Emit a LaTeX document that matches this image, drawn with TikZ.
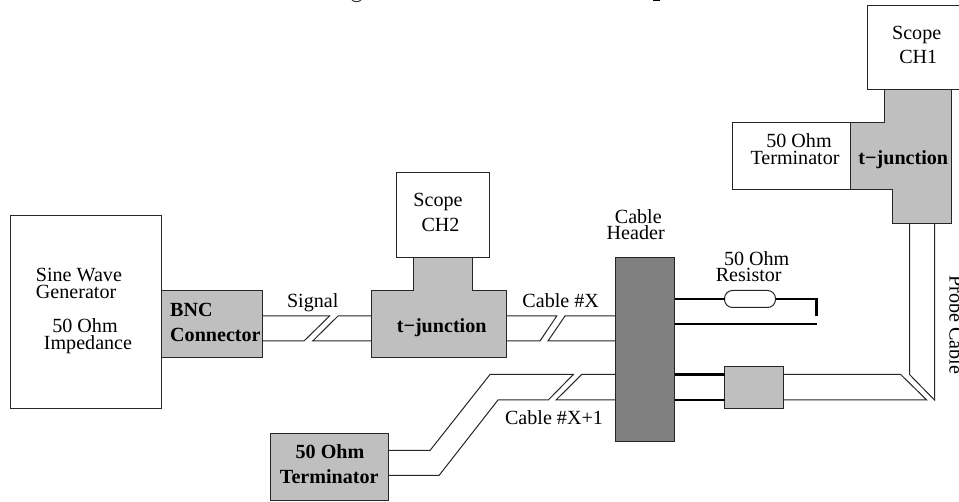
\documentclass[tikz,border=0pt]{standalone}
\usepackage{fontspec}
\setmainfont{Liberation Serif}
\newcommand{\shapeat}[6]{\node[#6,minimum width={(#4-#2)*1pt},minimum height={(#5-#3)*1pt}] (#1) at ({(#2+#4)/2},{(#3+#5)/2}) {};}
\tikzset{
  base/.style={draw=black!85,line width=1pt,inner sep=0pt,outer sep=0pt,rectangle},
  whitebox/.style={base,fill=white},
  graybox/.style={base,fill=black!25},
  darkbox/.style={base,fill=black!50},
  resbox/.style={base,fill=white,rounded corners=8pt},
  txt/.style={anchor=base,inner sep=0pt,font=\fontsize{20.1}{20}\selectfont},
  bld/.style={txt,font=\fontsize{20.1}{20}\selectfont\bfseries},
  wire/.style={draw=black!85,line width=1pt,line join=miter},
  thick wire/.style={draw=black,line width=2.7pt},
}
\begin{document}
\begin{tikzpicture}[x=1pt,y=-1pt]
\useasboundingbox (0,0) rectangle (959,502);
\clip (0,0) rectangle (959,502);
% boxes
\shapeat{gen}{10.5}{215.5}{161.5}{408.5}{whitebox}
\shapeat{scopetwo}{396.5}{172.5}{489.5}{257.5}{whitebox}
\shapeat{scopeone}{867.5}{5.5}{980}{89.5}{whitebox}
\shapeat{termone}{732.5}{122.5}{850.5}{189.5}{whitebox}
\shapeat{bnc}{161.5}{290.5}{262.5}{357.5}{graybox}
\shapeat{header}{615.5}{257.5}{674.5}{441.5}{darkbox}
\shapeat{res}{724.5}{290.5}{775.5}{307.5}{resbox}
\shapeat{lump}{724.5}{366.5}{783.5}{408.5}{graybox}
\shapeat{term}{270.5}{433.5}{388.5}{500.5}{graybox}
% t-junctions
\draw[base,fill=black!25] (371.5,290.5) -- (413.5,290.5) -- (413.5,257.5) -- (472.5,257.5) -- (472.5,290.5) -- (506.5,290.5) -- (506.5,357.5) -- (371.5,357.5) -- cycle;
\draw[base,fill=black!25] (850.5,122.5) -- (884.5,122.5) -- (884.5,89.5) -- (951.5,89.5) -- (951.5,223.5) -- (892.5,223.5) -- (892.5,189.5) -- (850.5,189.5) -- cycle;
\coordinate (tjtwoeast) at (506.5,330);
\coordinate (tjtwowest) at (371.5,330);
\coordinate (tjoneleft) at (909.5,223.5);
\coordinate (tjoneright) at (934.5,223.5);
% signal cable
\draw[wire] (bnc.east |- 0,316) -- (329.5,316) -- (304,341) -- (bnc.east |- 0,341);
\draw[wire] (tjtwowest |- 0,316) -- (338,316) -- (312.7,341) -- (tjtwowest |- 0,341);
% cable X
\draw[wire] (tjtwoeast |- 0,316) -- (556.7,316) -- (540,341) -- (tjtwoeast |- 0,341);
\draw[wire] (header.west |- 0,316) -- (565,316) -- (548,341) -- (header.west |- 0,341);
% cable X+1
\draw[wire] (term.east |- 0,450.5) -- (430,450.5) -- (490,374.5) -- (573.3,374.5) -- (548.3,400) -- (498,400) -- (439,475.5) -- (term.east |- 0,475.5);
\draw[wire] (header.west |- 0,374.5) -- (581.7,374.5) -- (556,400) -- (header.west |- 0,400);
% resistor leads
\draw[thick wire] (header.east |- 0,299) -- (res.west |- 0,299);
\draw[thick wire] (res.east |- 0,299) -- (816.7,299);
\draw[draw=black,line width=3.5pt] (816.7,297.6) -- (816.7,316);
\draw[thick wire] (header.east |- 0,324) -- (817,324);
% lower leads
\draw[thick wire] (header.east |- 0,374.5) -- (lump.west |- 0,374.5);
\draw[thick wire] (header.east |- 0,400) -- (lump.west |- 0,400);
% probe cable
\draw[wire] (lump.east |- 0,374.5) -- (900.7,374.5) -- (926.7,400) -- (lump.east |- 0,400);
\draw[wire] (tjoneleft) -- (909.5,374.5) -- (934.5,400) -- (tjoneright);
% clipped slivers of the lost heading
\draw[black!80,line width=1pt] (352,0) .. controls (354,2.2) and (359,2.2) .. (361,0);
\draw[black,line width=1.2pt] (653,0.4) -- (660,0.4);
% texts
\node[txt,anchor=base west] (t1) at (35.7,281.7) {Sine Wave};
\node[txt,anchor=base west] (t2) at (35.7,298.3) {Generator};
\node[txt] (t3) at (85,332.7) {50 Ohm};
\node[txt] (t4) at (88,349.3) {Impedance};
\node[bld,anchor=base west] (t5) at (170,316.5) {BNC};
\node[bld,anchor=base west] (t6) at (170,341.5) {Connector};
\node[txt] (t7) at (312.7,308) {Signal};
\node[bld] (t8) at (441.7,332.7) {t−junction};
\node[txt] (t9) at (438,206.7) {Scope};
\node[txt] (t10) at (440.5,231.7) {CH2};
\node[txt] (t11) at (560.7,308) {Cable \#X};
\node[txt] (t12) at (554,425) {Cable \#X+1};
\node[txt] (t13) at (638.3,224) {Cable};
\node[txt] (t14) at (635.7,240) {Header};
\node[txt] (t15) at (756.7,266) {50 Ohm};
\node[txt] (t16) at (748.7,281.7) {Resistor};
\node[bld] (t17) at (330,459) {50 Ohm};
\node[bld] (t18) at (329.3,484) {Terminator};
\node[txt] (t19) at (916.7,39.3) {Scope};
\node[txt] (t20) at (918.3,64) {CH1};
\node[txt] (t21) at (799,147.7) {50 Ohm};
\node[txt] (t22) at (795,165) {Terminator};
\node[bld] (t23) at (903.3,165) {t−junction};
\node[txt,anchor=base west,rotate=-90] (t24) at (949.5,275) {Probe Cable};
\end{tikzpicture}
\end{document}
